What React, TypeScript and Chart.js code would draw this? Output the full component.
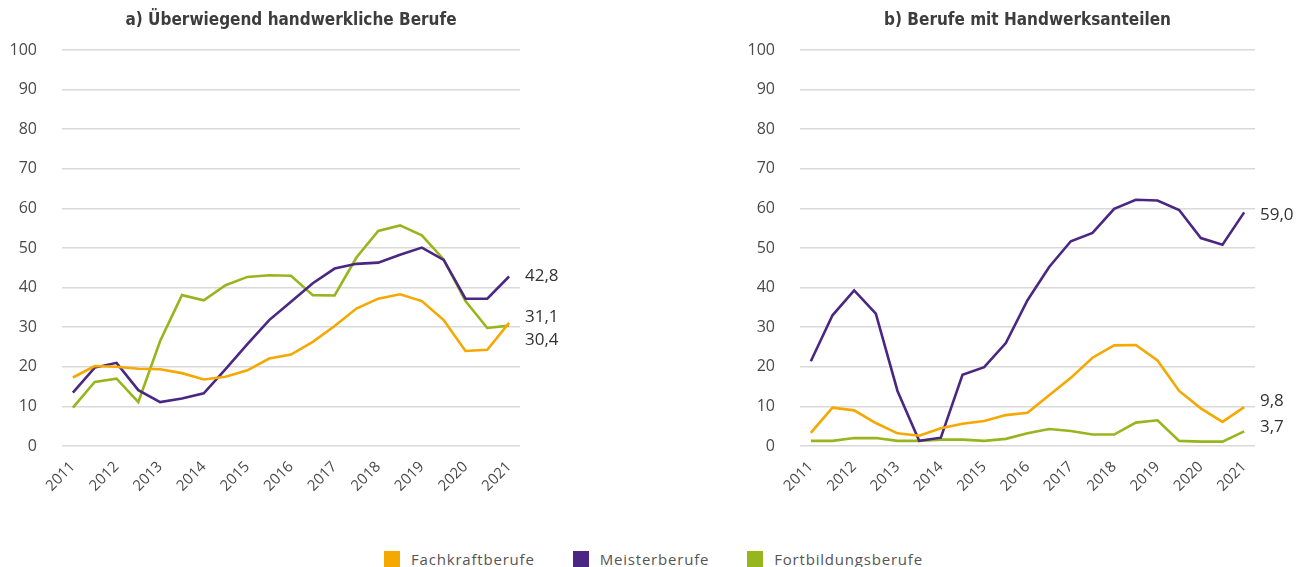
import React, { useEffect, useRef } from "react";
import { Chart, registerables } from "chart.js";

Chart.register(...registerables);

// ---- data ----
const years = ["2011", "2012", "2013", "2014", "2015", "2016", "2017", "2018", "2019", "2020", "2021"];
// half-year steps: every second category carries a year label
const periods = Array.from({ length: 21 }, (_, i) => (i % 2 === 0 ? years[i / 2] : ""));

const seriesNames = ["Fachkraftberufe", "Meisterberufe", "Fortbildungsberufe"];

const fachkraftA = [17.3, 20.2, 20.0, 19.5, 19.4, 18.4, 16.8, 17.5, 19.1, 22.1, 23.1, 26.3, 30.3, 34.7, 37.2, 38.3, 36.6, 31.8, 24.0, 24.3, 31.1];
const meisterA = [13.5, 19.8, 21.0, 14.1, 11.1, 12.0, 13.3, 19.4, 25.7, 31.8, 36.4, 41.1, 44.8, 46.0, 46.3, 48.3, 50.1, 47.0, 37.2, 37.2, 42.8];
const fortbildungA = [9.7, 16.2, 17.0, 11.1, 26.5, 38.1, 36.8, 40.6, 42.7, 43.1, 43.0, 38.1, 38.0, 47.6, 54.3, 55.7, 53.2, 47.1, 36.6, 29.8, 30.4];

const fachkraftB = [3.3, 9.7, 9.0, 5.8, 3.2, 2.6, 4.5, 5.6, 6.3, 7.8, 8.4, 12.8, 17.2, 22.3, 25.4, 25.5, 21.6, 13.9, 9.5, 6.1, 9.8];
const meisterB = [21.4, 33.0, 39.3, 33.4, 13.9, 1.3, 2.1, 18.0, 19.9, 26.0, 36.8, 45.2, 51.7, 53.8, 59.9, 62.2, 62.0, 59.6, 52.5, 50.8, 59.0];
const fortbildungB = [1.3, 1.3, 2.0, 2.0, 1.3, 1.3, 1.6, 1.6, 1.3, 1.8, 3.2, 4.3, 3.8, 2.9, 2.9, 5.9, 6.5, 1.3, 1.1, 1.1, 3.7];

const titleA = "a) Überwiegend handwerkliche Berufe";
const titleB = "b) Berufe mit Handwerksanteilen";

const yTicks = [0, 10, 20, 30, 40, 50, 60, 70, 80, 90, 100];

// ---- styles ----
const colors = ["#F4A800", "#4B2784", "#97B61E"];
const baseFamily = "'Open Sans', 'Noto Sans', sans-serif";
const tickFont = { family: baseFamily, size: 15 };
const tickColor = "#4a4a4a";

const titlePlugin = {
  id: "panelTitle",
  afterDraw(chart: any, _args: any, opts: any) {
    const ctx = chart.ctx;
    const ca = chart.chartArea;
    ctx.save();
    ctx.font = "bold condensed 17px 'DejaVu Sans', sans-serif";
    try {
      (ctx as any).fontStretch = "condensed";
    } catch (e) {}
    ctx.fillStyle = "#3d3d3d";
    ctx.textAlign = "center";
    ctx.textBaseline = "alphabetic";
    ctx.fillText(opts.text, (ca.left + ca.right) / 2, 17);
    ctx.restore();
  },
};

const endLabelPlugin = {
  id: "endLabels",
  afterDatasetsDraw(chart: any, _args: any, opts: any) {
    const ctx = chart.ctx;
    const offsets: number[] = opts.offsets || [];
    ctx.save();
    ctx.font = "17px 'Open Sans', 'Noto Sans', sans-serif";
    ctx.fillStyle = "#333333";
    ctx.textAlign = "left";
    ctx.textBaseline = "middle";
    chart.data.datasets.forEach((ds: any, i: number) => {
      const meta = chart.getDatasetMeta(i);
      const pt = meta.data[meta.data.length - 1];
      const v = ds.data[ds.data.length - 1];
      const txt = v.toFixed(1).replace(".", ",");
      ctx.fillText(txt, chart.chartArea.right + 5, pt.y + (offsets[i] || 0));
    });
    ctx.restore();
  },
};

type PanelProps = {
  title: string;
  series: number[][];
  left: number;
  width: number;
  yWidth: number;
  padRight: number;
  offsets: number[];
};

function Panel({ title, series, left, width, yWidth, padRight, offsets }: PanelProps) {
  const ref = useRef<HTMLCanvasElement | null>(null);
  useEffect(() => {
    if (!ref.current) return;
    const chart = new Chart(ref.current, {
      type: "line",
      data: {
        labels: periods,
        datasets: series.map((d, i) => ({
          label: seriesNames[i],
          data: d,
          borderColor: colors[i],
          backgroundColor: colors[i],
          borderWidth: 2.6,
          pointRadius: 0,
          tension: 0,
          fill: false,
        })),
      },
      options: {
        animation: false,
        responsive: false,
        maintainAspectRatio: false,
        layout: { padding: { left: 0, right: padRight, top: 42, bottom: 0 } },
        plugins: {
          legend: { display: false },
          tooltip: { enabled: false },
          title: { display: false },
          panelTitle: { text: title },
          endLabels: { offsets },
        } as any,
        scales: {
          x: {
            type: "category",
            offset: true,
            grid: { display: false, drawTicks: false },
            border: { display: false },
            ticks: {
              autoSkip: false,
              maxRotation: 45,
              minRotation: 45,
              padding: 12,
              color: tickColor,
              font: tickFont,
            },
            afterFit: (scale: any) => {
              scale.height = 72;
            },
          },
          y: {
            min: 0,
            max: 100,
            afterBuildTicks: (scale: any) => {
              scale.ticks = yTicks.map((v) => ({ value: v }));
            },
            grid: { color: "#d9d9d9", lineWidth: 1.5, drawTicks: false },
            border: { display: false },
            ticks: { padding: 25, color: tickColor, font: { family: baseFamily, size: 16 } },
            afterFit: (scale: any) => {
              scale.width = yWidth;
            },
          },
        },
      },
      plugins: [titlePlugin, endLabelPlugin],
    });
    return () => chart.destroy();
  }, []);
  return (
    <canvas
      ref={ref}
      width={width}
      height={510}
      style={{ position: "absolute", left, top: 8, width, height: 510 }}
    />
  );
}

function Legend() {
  return (
    <div
      style={{
        position: "absolute",
        left: 0,
        right: 0,
        top: 551,
        height: 16,
        display: "flex",
        justifyContent: "center",
        gap: 38,
        fontFamily: baseFamily,
        fontSize: 15,
        letterSpacing: "0.8px",
        color: "#555555",
        lineHeight: "16px",
      }}
    >
      {seriesNames.map((n, i) => (
        <div key={n} style={{ display: "flex", alignItems: "center", gap: 11 }}>
          <span style={{ display: "inline-block", width: 16, height: 16, background: colors[i] }} />
          <span>{n}</span>
        </div>
      ))}
    </div>
  );
}

export default function App() {
  useEffect(() => {
    document.body.style.margin = "0";
  }, []);
  return (
    <div style={{ position: "relative", width: 1307, height: 567, overflow: "hidden" }}>
      <Panel
        title={titleA}
        series={[fachkraftA, meisterA, fortbildungA]}
        left={8}
        width={570}
        yWidth={54}
        padRight={58}
        offsets={[-6, 0, 15]}
      />
      <Panel
        title={titleB}
        series={[fachkraftB, meisterB, fortbildungB]}
        left={714}
        width={585}
        yWidth={86}
        padRight={44}
        offsets={[-6, 3, -4]}
      />
      <Legend />
    </div>
  );
}
